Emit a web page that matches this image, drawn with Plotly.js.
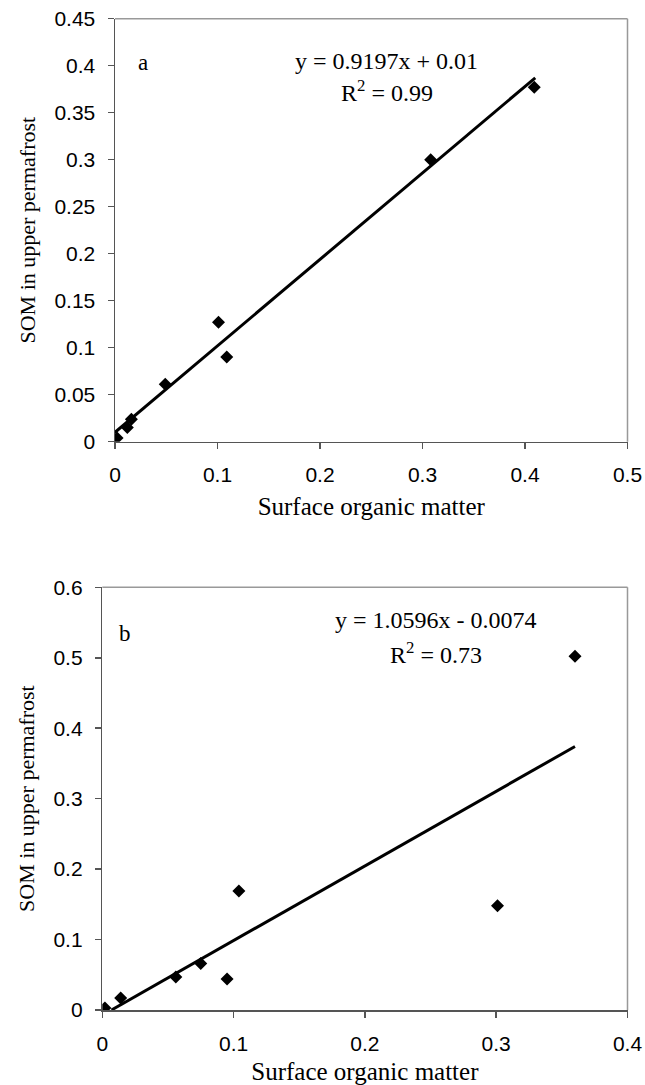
<!DOCTYPE html>
<html>
<head>
<meta charset="utf-8">
<script src="https://cdn.plot.ly/plotly-3.0.1.min.js"></script>
<style>
  html, body { margin: 0; padding: 0; background: #ffffff; }
  #chart { width: 645px; height: 1085px; }
</style>
</head>
<body>
<div id="chart"></div>
<script>
// Panel a data
const xA = [0.002, 0.012, 0.016, 0.049, 0.101, 0.109, 0.308, 0.409];
const yA = [0.004, 0.015, 0.024, 0.061, 0.127, 0.090, 0.300, 0.377];
const slopeA = 0.9197, interceptA = 0.01;
const fitXA = [0, 0.41];
const eqA = "y = 0.9197x + 0.01";
const r2A = "R<sup>2</sup> = 0.99";

// Panel b data
const xB = [0.002, 0.014, 0.056, 0.075, 0.095, 0.104, 0.301, 0.36];
const yB = [0.003, 0.017, 0.047, 0.066, 0.044, 0.169, 0.148, 0.502];
const slopeB = 1.0596, interceptB = -0.0074;
const fitXB = [0.007, 0.36];
const eqB = "y = 1.0596x - 0.0074";
const r2B = "R<sup>2</sup> = 0.73";

const xTitle = "Surface organic matter";
const yTitle = "SOM in upper permafrost";

const W = 645, H = 1085;
const px = v => v / W;
const py = v => 1 - v / H;

const serif = "Liberation Serif, Times New Roman, serif";
const sans = "Liberation Sans, Arial, sans-serif";

const markerStyle = {symbol: "diamond", size: 10, color: "#000000"};
const lineStyle = {color: "#000000", width: 3};

const traces = [
  {x: xA, y: yA, xaxis: "x", yaxis: "y", mode: "markers", type: "scatter", marker: markerStyle, showlegend: false},
  {x: fitXA, y: fitXA.map(v => slopeA * v + interceptA), xaxis: "x", yaxis: "y", mode: "lines", type: "scatter", line: lineStyle, showlegend: false},
  {x: xB, y: yB, xaxis: "x2", yaxis: "y2", mode: "markers", type: "scatter", marker: markerStyle, showlegend: false},
  {x: fitXB, y: fitXB.map(v => slopeB * v + interceptB), xaxis: "x2", yaxis: "y2", mode: "lines", type: "scatter", line: lineStyle, showlegend: false}
];

const axisCommon = {
  showgrid: false, zeroline: false, showline: true, linecolor: "#555555", linewidth: 1.5,
  ticks: "outside", ticklen: 6, tickcolor: "#555555", tickwidth: 1.5,
  tickfont: {family: sans, size: 21, color: "#000000"},
  automargin: false, fixedrange: true
};

const layout = {
  width: W, height: H,
  margin: {l: 0, r: 0, t: 0, b: 0},
  paper_bgcolor: "#ffffff", plot_bgcolor: "#ffffff",
  showlegend: false,
  xaxis: Object.assign({}, axisCommon, {
    domain: [px(115), px(627.5)], anchor: "y", range: [0, 0.5], tick0: 0, dtick: 0.1,
    ticklabelstandoff: 8,
    title: {text: xTitle, font: {family: serif, size: 25, color: "#000000"}, standoff: 12}
  }),
  yaxis: Object.assign({}, axisCommon, {
    domain: [py(441.7), py(18.7)], anchor: "x", range: [0, 0.45], tick0: 0, dtick: 0.05,
    ticklabelstandoff: 8,
    title: {text: yTitle, font: {family: serif, size: 22, color: "#000000"}, standoff: 12}
  }),
  xaxis2: Object.assign({}, axisCommon, {
    domain: [px(102.3), px(627.5)], anchor: "y2", range: [0, 0.4], tick0: 0, dtick: 0.1,
    ticklabelstandoff: 8,
    title: {text: xTitle, font: {family: serif, size: 25, color: "#000000"}, standoff: 11}
  }),
  yaxis2: Object.assign({}, axisCommon, {
    domain: [py(1010), py(587.3)], anchor: "x2", range: [0, 0.6], tick0: 0, dtick: 0.1,
    ticklabelstandoff: 8,
    title: {text: yTitle, font: {family: serif, size: 22, color: "#000000"}, standoff: 12}
  }),
  shapes: [
    {type: "line", xref: "x domain", yref: "y domain", x0: 0, x1: 1, y0: 1, y1: 1, line: {color: "#999999", width: 1.5}},
    {type: "line", xref: "x domain", yref: "y domain", x0: 1, x1: 1, y0: 0, y1: 1, line: {color: "#999999", width: 1.5}},
    {type: "line", xref: "x2 domain", yref: "y2 domain", x0: 0, x1: 1, y0: 1, y1: 1, line: {color: "#999999", width: 1.5}},
    {type: "line", xref: "x2 domain", yref: "y2 domain", x0: 1, x1: 1, y0: 0, y1: 1, line: {color: "#999999", width: 1.5}}
  ],
  annotations: [
    {text: "a", xref: "paper", yref: "paper", x: px(143), y: py(62), xanchor: "center", yanchor: "middle", showarrow: false, font: {family: serif, size: 23, color: "#000000"}},
    {text: eqA, xref: "paper", yref: "paper", x: px(386), y: py(61), xanchor: "center", yanchor: "middle", showarrow: false, font: {family: serif, size: 24, color: "#000000"}},
    {text: r2A, xref: "paper", yref: "paper", x: px(387), y: py(91), xanchor: "center", yanchor: "middle", showarrow: false, font: {family: serif, size: 24, color: "#000000"}},
    {text: "b", xref: "paper", yref: "paper", x: px(125), y: py(633), xanchor: "center", yanchor: "middle", showarrow: false, font: {family: serif, size: 23, color: "#000000"}},
    {text: eqB, xref: "paper", yref: "paper", x: px(436), y: py(620), xanchor: "center", yanchor: "middle", showarrow: false, font: {family: serif, size: 24, color: "#000000"}},
    {text: r2B, xref: "paper", yref: "paper", x: px(436), y: py(653), xanchor: "center", yanchor: "middle", showarrow: false, font: {family: serif, size: 24, color: "#000000"}}
  ]
};

Plotly.newPlot("chart", traces, layout, {displayModeBar: false, staticPlot: true});
</script>
</body>
</html>
